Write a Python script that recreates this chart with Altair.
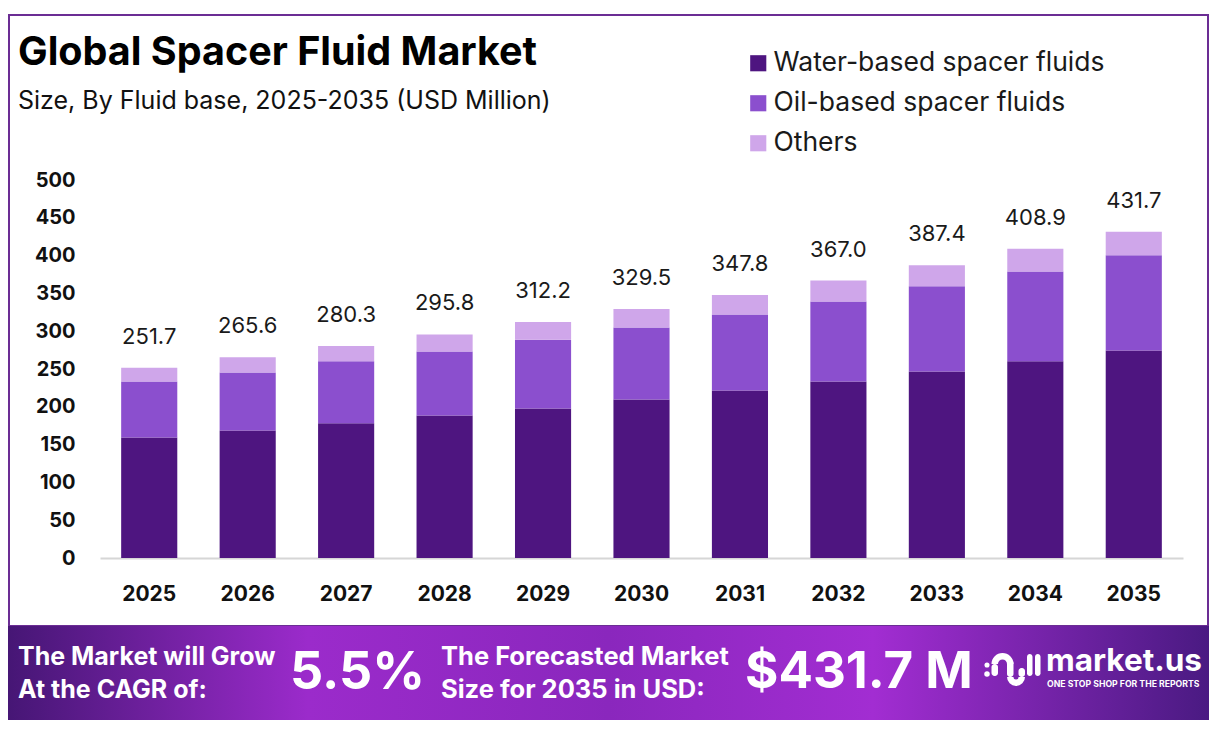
import altair as alt
import pandas as pd
import math

years = ["2025", "2026", "2027", "2028", "2029", "2030", "2031", "2032", "2033", "2034", "2035"]
water = [159.5, 168.8, 178.1, 188.6, 197.9, 209.8, 221.7, 233.6, 246.8, 260.1, 274.6]
oil = [74.1, 76.7, 82.0, 84.7, 90.9, 95.2, 100.5, 105.8, 112.5, 119.0, 125.7]
totals = [251.7, 265.6, 280.3, 295.8, 312.2, 329.5, 347.8, 367.0, 387.4, 408.9, 431.7]
others = [round(t - w - o, 1) for t, w, o in zip(totals, water, oil)]
y_ticks = [0, 50, 100, 150, 200, 250, 300, 350, 400, 450, 500]

segments = ["Water-based spacer fluids", "Oil-based spacer fluids", "Others"]
colors = ["#4e1580", "#8b4fce", "#cfa6ea"]

rows = []
for i, y in enumerate(years):
    for k, (s, vals) in enumerate(zip(segments, [water, oil, others])):
        rows.append({"year": y, "segment": s, "value": vals[i], "order": k})
df = pd.DataFrame(rows)
tot_df = pd.DataFrame({"year": years, "total": totals})

FONT = "Inter"

xaxis = alt.Axis(labelAngle=0, labelFont=FONT, labelFontSize=21, labelFontWeight="bold",
                 labelColor="#111111", labelPadding=25, ticks=False,
                 domainColor="#d6d6d6", domainWidth=2)
yaxis = alt.Axis(values=y_ticks, labelFont=FONT, labelFontSize=20,
                 labelFontWeight="bold", labelColor="#111111", labelPadding=25,
                 labelOverlap=False, ticks=False, domain=False, grid=False)
xscale = alt.Scale(paddingInner=0.43, paddingOuter=0.215)
yscale = alt.Scale(domain=[0, 500], nice=False)

bars = alt.Chart(df).mark_bar().encode(
    x=alt.X("year:O", title=None, sort=years, scale=xscale, axis=xaxis),
    y=alt.Y("sum(value):Q", title=None, stack="zero", scale=yscale, axis=yaxis),
    color=alt.Color("segment:N", sort=segments, title=None,
                    scale=alt.Scale(domain=segments, range=colors),
                    legend=alt.Legend(orient="none", legendX=645, legendY=-130, symbolType="square",
                                      symbolSize=260, labelFont=FONT, labelFontSize=26.5,
                                      labelColor="#1a1a1a", labelOffset=2, rowPadding=13,
                                      labelLimit=400, symbolStrokeWidth=0)),
    order=alt.Order("order:Q", sort="ascending"),
)

labels = alt.Chart(tot_df).mark_text(font=FONT, fontSize=22, color="#1a1a1a",
                                      baseline="middle", dy=-31).encode(
    x=alt.X("year:O", title=None, sort=years, scale=xscale, axis=xaxis),
    y=alt.Y("total:Q", title=None, scale=yscale, axis=yaxis),
    text=alt.Text("total:Q", format=".1f"),
)

one = alt.Data(values=[{"a": 1}])

border = alt.Chart(one).mark_rect(fillOpacity=0, stroke="#6b2d94", strokeWidth=2).encode(
    x=alt.value(-91), x2=alt.value(1108), y=alt.value(-165), y2=alt.value(446))

banner = alt.Chart(one).mark_rect(
    fill=alt.LinearGradient(gradient="linear", x1=0, x2=1, y1=0, y2=0, stops=[
        alt.GradientStop(color="#461675", offset=0),
        alt.GradientStop(color="#9b2bcb", offset=0.25),
        alt.GradientStop(color="#8a27bd", offset=0.5),
        alt.GradientStop(color="#a22dd2", offset=0.72),
        alt.GradientStop(color="#4a1a82", offset=1),
    ])).encode(x=alt.value(-92), x2=alt.value(1109), y=alt.value(446), y2=alt.value(540))


def txt(s, x, y, size, weight="normal", color="#111111", baseline="alphabetic", align="left"):
    return alt.Chart(one).mark_text(text=s, font=FONT, fontSize=size, fontWeight=weight,
                                    color=color, baseline=baseline, align=align).encode(
        x=alt.value(x), y=alt.value(y))


def rrect(x1, x2, y1, y2):
    return alt.Chart(one).mark_rect(color="white", cornerRadius=3).encode(
        x=alt.value(x1), x2=alt.value(x2), y=alt.value(y1), y2=alt.value(y2))


def ring(cx, cy, r1, r2, t1, t2):
    return alt.Chart(one).mark_arc(color="white", radius=r1, radius2=r2,
                                   theta=t1, theta2=t2).encode(
        x=alt.value(cx), y=alt.value(cy))


PI = math.pi
logo = [
    alt.Chart(one).mark_circle(color="white", size=26, opacity=1).encode(x=alt.value(887), y=alt.value(485)),
    alt.Chart(one).mark_circle(color="white", size=30, opacity=1).encode(x=alt.value(887), y=alt.value(494)),
    ring(902.5, 484, 11, 4.5, 1.5 * PI, 2.5 * PI),
    rrect(891.5, 898, 484, 496),
    rrect(907, 913.5, 480, 497),
    ring(916, 497, 9, 2.5, 0.5 * PI, 1.5 * PI),
    rrect(918.5, 925, 488, 497),
    rrect(927, 932.5, 474, 496),
    rrect(935, 940.5, 474, 496),
]

texts = [
    txt("Global Spacer Fluid Market", -82, -115, 39.5, "bold", "#000000"),
    txt("Size, By Fluid base, 2025-2035 (USD Million)", -82, -71, 25, "normal", "#111111"),
    txt("The Market will Grow", -82, 477, 25, "bold", "white", "middle"),
    txt("At the CAGR of:", -82, 510, 25, "bold", "white", "middle"),
    txt("5.5%", 190, 493, 52, "bold", "white", "middle"),
    txt("The Forecasted Market", 341, 477, 25.5, "bold", "white", "middle"),
    txt("Size for 2035 in USD:", 341, 510, 25.5, "bold", "white", "middle"),
    txt("$431.7 M", 645, 493, 51, "bold", "white", "middle"),
    txt("market.us", 946, 482, 31.5, "bold", "white", "middle"),
    txt("ONE STOP SHOP FOR THE REPORTS", 947, 504, 8.7, "bold", "white", "middle"),
]

chart = alt.layer(border, banner, bars, labels, *logo, *texts).properties(
    width=1083, height=378,
    padding={"left": 92, "top": 172, "right": 26, "bottom": 171},
    autosize=alt.AutoSizeParams(type="none"),
    background="white",
).configure_view(stroke=None)

chart.save("out.html", embed_options={"renderer": "svg", "actions": False})
